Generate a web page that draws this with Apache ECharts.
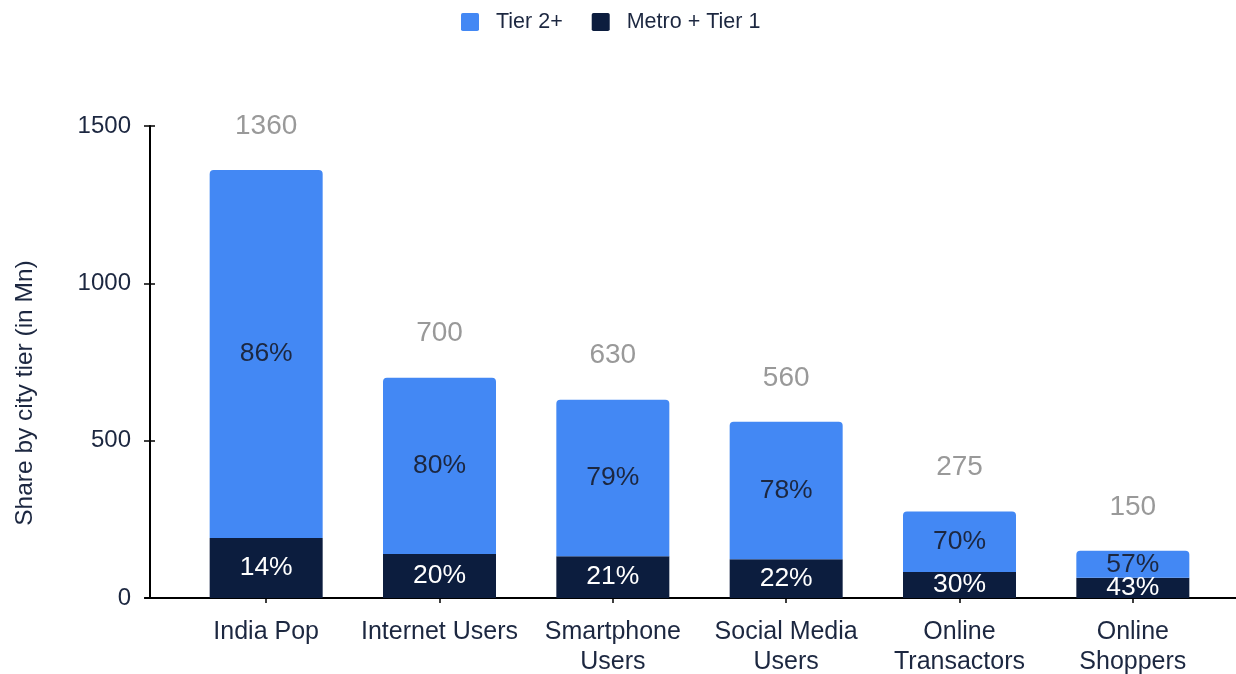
<!DOCTYPE html>
<html>
<head>
<meta charset="utf-8">
<title>Share by city tier</title>
<script src="https://cdn.jsdelivr.net/npm/echarts@6/dist/echarts.min.js"></script>
<style>
  html, body { margin: 0; padding: 0; background: #ffffff; }
  #chart { width: 1236px; height: 674px; }
</style>
</head>
<body>
<div id="chart"></div>
<script>
// Audience size (millions) and split by city tier
const categories = ['India Pop', 'Internet Users', 'Smartphone\nUsers', 'Social Media\nUsers', 'Online\nTransactors', 'Online\nShoppers'];
const totals = [1360, 700, 630, 560, 275, 150];
const metroPct = [14, 20, 21, 22, 30, 43];
const tier2Pct = [86, 80, 79, 78, 70, 57];
const yTicks = { min: 0, max: 1500, interval: 500 };

const metroValues = totals.map((t, i) => t * metroPct[i] / 100);
const tier2Values = totals.map((t, i) => t * tier2Pct[i] / 100);

const FONT = 'Liberation Sans, Arial, sans-serif';
const TEXT = '#1c2740';
const BLUE = '#4388f4';
const NAVY = '#0c1d3e';
// small square with slightly rounded corners for the legend keys
const KEY_ICON = 'path://M2,0 H18 Q20,0 20,2 V18 Q20,20 18,20 H2 Q0,20 0,18 V2 Q0,0 2,0 Z';

const chart = echarts.init(document.getElementById('chart'), null, { renderer: 'canvas' });

chart.setOption({
  backgroundColor: '#ffffff',
  animation: false,
  textStyle: { fontFamily: FONT },
  legend: {
    data: ['Tier 2+', 'Metro + Tier 1'],
    top: 6,
    left: 456,
    icon: KEY_ICON,
    itemWidth: 18,
    itemHeight: 18,
    itemGap: 29,
    textStyle: { fontSize: 21.5, color: TEXT, fontFamily: FONT, padding: [0, 0, 0, 12] }
  },
  grid: [
    { left: 179.5, right: 16.5, top: 126, bottom: 76, containLabel: false, outerBoundsMode: 'none' },
    { left: 145, right: 0, top: 126, bottom: 76, containLabel: false, outerBoundsMode: 'none' }
  ],
  xAxis: [
    {
      type: 'category',
      gridIndex: 0,
      data: categories,
      axisLine: { show: false },
      axisTick: { show: true, alignWithLabel: true, length: 5, lineStyle: { color: '#000', width: 1.5 } },
      axisLabel: { fontSize: 25, color: TEXT, lineHeight: 30, margin: 19, interval: 0, fontFamily: FONT }
    },
    {
      type: 'value',
      gridIndex: 1,
      min: 0, max: 1,
      axisLine: { show: true, onZero: false, lineStyle: { color: '#000', width: 2 } },
      axisTick: { show: false },
      axisLabel: { show: false },
      splitLine: { show: false }
    }
  ],
  yAxis: [
    {
      type: 'value',
      gridIndex: 0,
      min: yTicks.min, max: yTicks.max, interval: yTicks.interval,
      offset: 29.5,
      name: 'Share by city tier (in Mn)',
      nameLocation: 'middle',
      nameGap: 112,
      nameTextStyle: { fontSize: 24.5, color: TEXT, fontFamily: FONT, padding: [0, 62, 0, 0] },
      axisLine: { show: true, lineStyle: { color: '#000', width: 2 } },
      axisTick: { show: true, inside: false, length: 6, lineStyle: { color: '#000', width: 1.5 } },
      axisLabel: { fontSize: 24, color: TEXT, margin: 19, fontFamily: FONT, formatter: v => String(v) },
      splitLine: { show: false }
    },
    {
      // inner half of the crossing ticks on the value axis
      type: 'value',
      gridIndex: 0,
      min: yTicks.min, max: yTicks.max, interval: yTicks.interval,
      position: 'left',
      offset: 29.5,
      axisLine: { show: false },
      axisTick: { show: true, inside: true, length: 5, lineStyle: { color: '#000', width: 1.5 } },
      axisLabel: { show: false },
      splitLine: { show: false }
    },
    {
      type: 'value',
      gridIndex: 1,
      min: 0, max: 1,
      show: false
    }
  ],
  series: [
    {
      name: 'Metro + Tier 1',
      type: 'bar',
      stack: 'tier',
      xAxisIndex: 0,
      yAxisIndex: 0,
      barWidth: 113,
      data: metroValues,
      itemStyle: { color: NAVY },
      label: {
        show: true,
        position: 'inside',
        color: '#ffffff',
        fontSize: 26.5,
        fontFamily: FONT,
        formatter: p => metroPct[p.dataIndex] + '%'
      }
    },
    {
      name: 'Tier 2+',
      type: 'bar',
      stack: 'tier',
      xAxisIndex: 0,
      yAxisIndex: 0,
      barWidth: 113,
      data: tier2Values,
      itemStyle: { color: BLUE, borderRadius: [4, 4, 0, 0] },
      label: {
        show: true,
        position: 'inside',
        color: TEXT,
        fontSize: 26.5,
        fontFamily: FONT,
        formatter: p => tier2Pct[p.dataIndex] + '%'
      }
    },
    {
      name: 'Total',
      type: 'scatter',
      xAxisIndex: 0,
      yAxisIndex: 0,
      symbolSize: 0,
      data: totals,
      silent: true,
      label: {
        show: true,
        position: 'top',
        distance: 30,
        color: '#7f7f7f',
        fontSize: 28,
        fontFamily: FONT,
        formatter: p => String(totals[p.dataIndex])
      }
    }
  ]
});
</script>
</body>
</html>
